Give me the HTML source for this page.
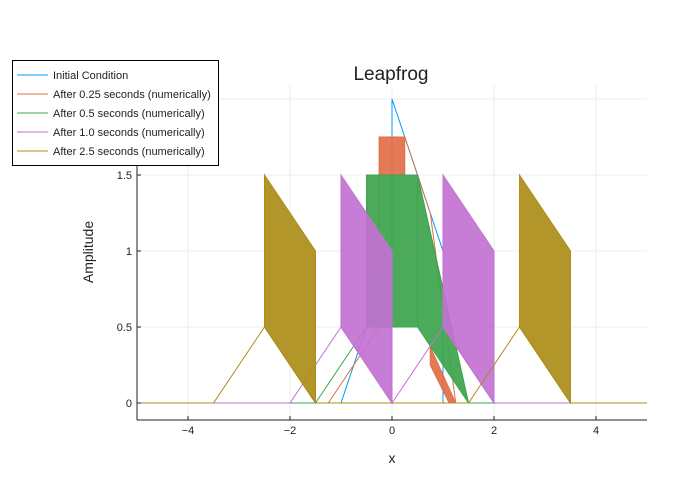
<!DOCTYPE html>
<html><head><meta charset="utf-8"><style>
body{margin:0;background:#fff;}
svg{display:block;font-family:"Liberation Sans",sans-serif;}
</style></head><body>
<svg id="chart" width="700" height="500">
<rect width="700" height="500" fill="#fff"/>
<g id="grid"></g>
<g id="marks"></g>
<g id="axes"></g>
<text x="391" y="80" font-size="19" text-anchor="middle" fill="#222">Leapfrog</text>
<text x="392" y="463" font-size="14" text-anchor="middle" fill="#222">x</text>
<text x="93" y="252" font-size="14" text-anchor="middle" fill="#222" transform="rotate(-90 93 252)">Amplitude</text>
<g id="legend"></g>
</svg>
<script>
const xTicks=[-4,-2,0,2,4];
const yTicks=[0,0.5,1,1.5];
const yTickLabels=["0","0.5","1","1.5"];
const seriesNames=["Initial Condition","After 0.25 seconds (numerically)","After 0.5 seconds (numerically)","After 1.0 seconds (numerically)","After 2.5 seconds (numerically)"];
const seriesColors=["#009AFA","#E26F46","#3DA44D","#C271D2","#AC8D18"];
const lineInitial=[[-5,0],[-1,0],[0,1],[0,2],[1,1],[1,0],[5,0]];
const line025=[[-5,0],[-1.25,0],[-0.25,0.5],[-0.25,1.75],[0.25,1.75],[0.75,1.25],[1.25,0],[5,0]];
const fill025=[[[-0.25,1.75],[0.25,1.75],[0.25,1.5],[-0.25,1.5]],[[0.75,0.37],[1.25,0],[1.12,0],[0.75,0.25]]];
const line05=[[-5,0],[-1.5,0],[-0.5,0.5],[-0.5,1.5],[0.5,1.5],[1.5,0],[5,0]];
const fill05=[[[-0.5,1.5],[0.5,1.5],[0.5,0.5],[-0.5,0.5]],[[0.5,1.5],[1.5,0],[0.5,0.5]]];
const line10=[[-5,0],[-2,0],[-1,0.5],[0,0],[1,0.5],[2,0],[5,0]];
const fill10=[[[-1,1.5],[0,1],[0,0],[-1,0.5]],[[1,1.5],[2,1],[2,0],[1,0.5]]];
const line25=[[-5,0],[-3.5,0],[-2.5,0.5],[-1.5,0],[1.5,0],[2.5,0.5],[3.5,0],[5,0]];
const fill25=[[[-2.5,1.5],[-1.5,1],[-1.5,0],[-2.5,0.5]],[[2.5,1.5],[3.5,1],[3.5,0],[2.5,0.5]]];

const X0=137,X1=647,Y0=403,YS=152;
const sx=v=>X0+(v+5)/10*(X1-X0);
const sy=v=>Y0-v*YS;
const NS="http://www.w3.org/2000/svg";
function mk(t,a,p){const e=document.createElementNS(NS,t);for(const k in a)e.setAttribute(k,a[k]);p.appendChild(e);return e;}
const grid=document.getElementById('grid'),axes=document.getElementById('axes'),marks=document.getElementById('marks');
xTicks.forEach(t=>{
 const g=mk('line',{x1:sx(t),x2:sx(t),y1:85,y2:420,stroke:'#eee','stroke-width':1},grid);
 
 
 const l=mk('text',{x:sx(t),y:434,'font-size':11,'text-anchor':'middle',fill:'#222'},axes);
 l.textContent=(t<0?'\u2212':'')+Math.abs(t);
 
 
 mk('line',{x1:sx(t),x2:sx(t),y1:420,y2:416,stroke:'#222'},axes);
});
yTicks.forEach((t,i)=>{
 const g=mk('line',{x1:137,x2:647,y1:sy(t),y2:sy(t),stroke:'#eee','stroke-width':1},grid);
 
 
 const l=mk('text',{x:132,y:sy(t)+4,'font-size':11,'text-anchor':'end',fill:'#222'},axes);
 l.textContent=yTickLabels[i];
 
 
 mk('line',{x1:137,x2:141,y1:sy(t),y2:sy(t),stroke:'#222'},axes);
});
mk('line',{x1:sy(2)-15,x2:sy(2)-15,y1:0,y2:0,stroke:'none'},grid);
mk('line',{x1:137,x2:647,y1:sy(2),y2:sy(2),stroke:'#eee'},grid);
mk('line',{x1:137,x2:647,y1:420,y2:420,stroke:'#222'},axes);
mk('line',{x1:137,x2:137,y1:85,y2:420,stroke:'#222'},axes);
const lines=[lineInitial,line025,line05,line10,line25];
const fills=[[],fill025,fill05,fill10,fill25];
lines.forEach((ln,i)=>{
 fills[i].forEach(poly=>{
  const p=mk('polygon',{points:poly.map(q=>sx(q[0])+','+sy(q[1])).join(' '),fill:seriesColors[i],'fill-opacity':0.92,stroke:seriesColors[i],'stroke-width':1},marks);
  
  
 });
 const pl=mk('polyline',{points:ln.map(q=>sx(q[0])+','+sy(q[1])).join(' '),fill:'none',stroke:seriesColors[i],'stroke-width':1},marks);
 
 
});
const lg=document.getElementById('legend');
mk('rect',{x:12.5,y:60.5,width:206,height:105,fill:'#fff',stroke:'#000'},lg);
seriesNames.forEach((n,i)=>{
 const y=75+i*19;
 mk('line',{x1:17,x2:48,y1:y,y2:y,stroke:seriesColors[i]},lg);
 const t=mk('text',{x:53,y:y+4,'font-size':11,fill:'#222'},lg);
 t.textContent=n;
 
 
});
</script>
</body></html>
